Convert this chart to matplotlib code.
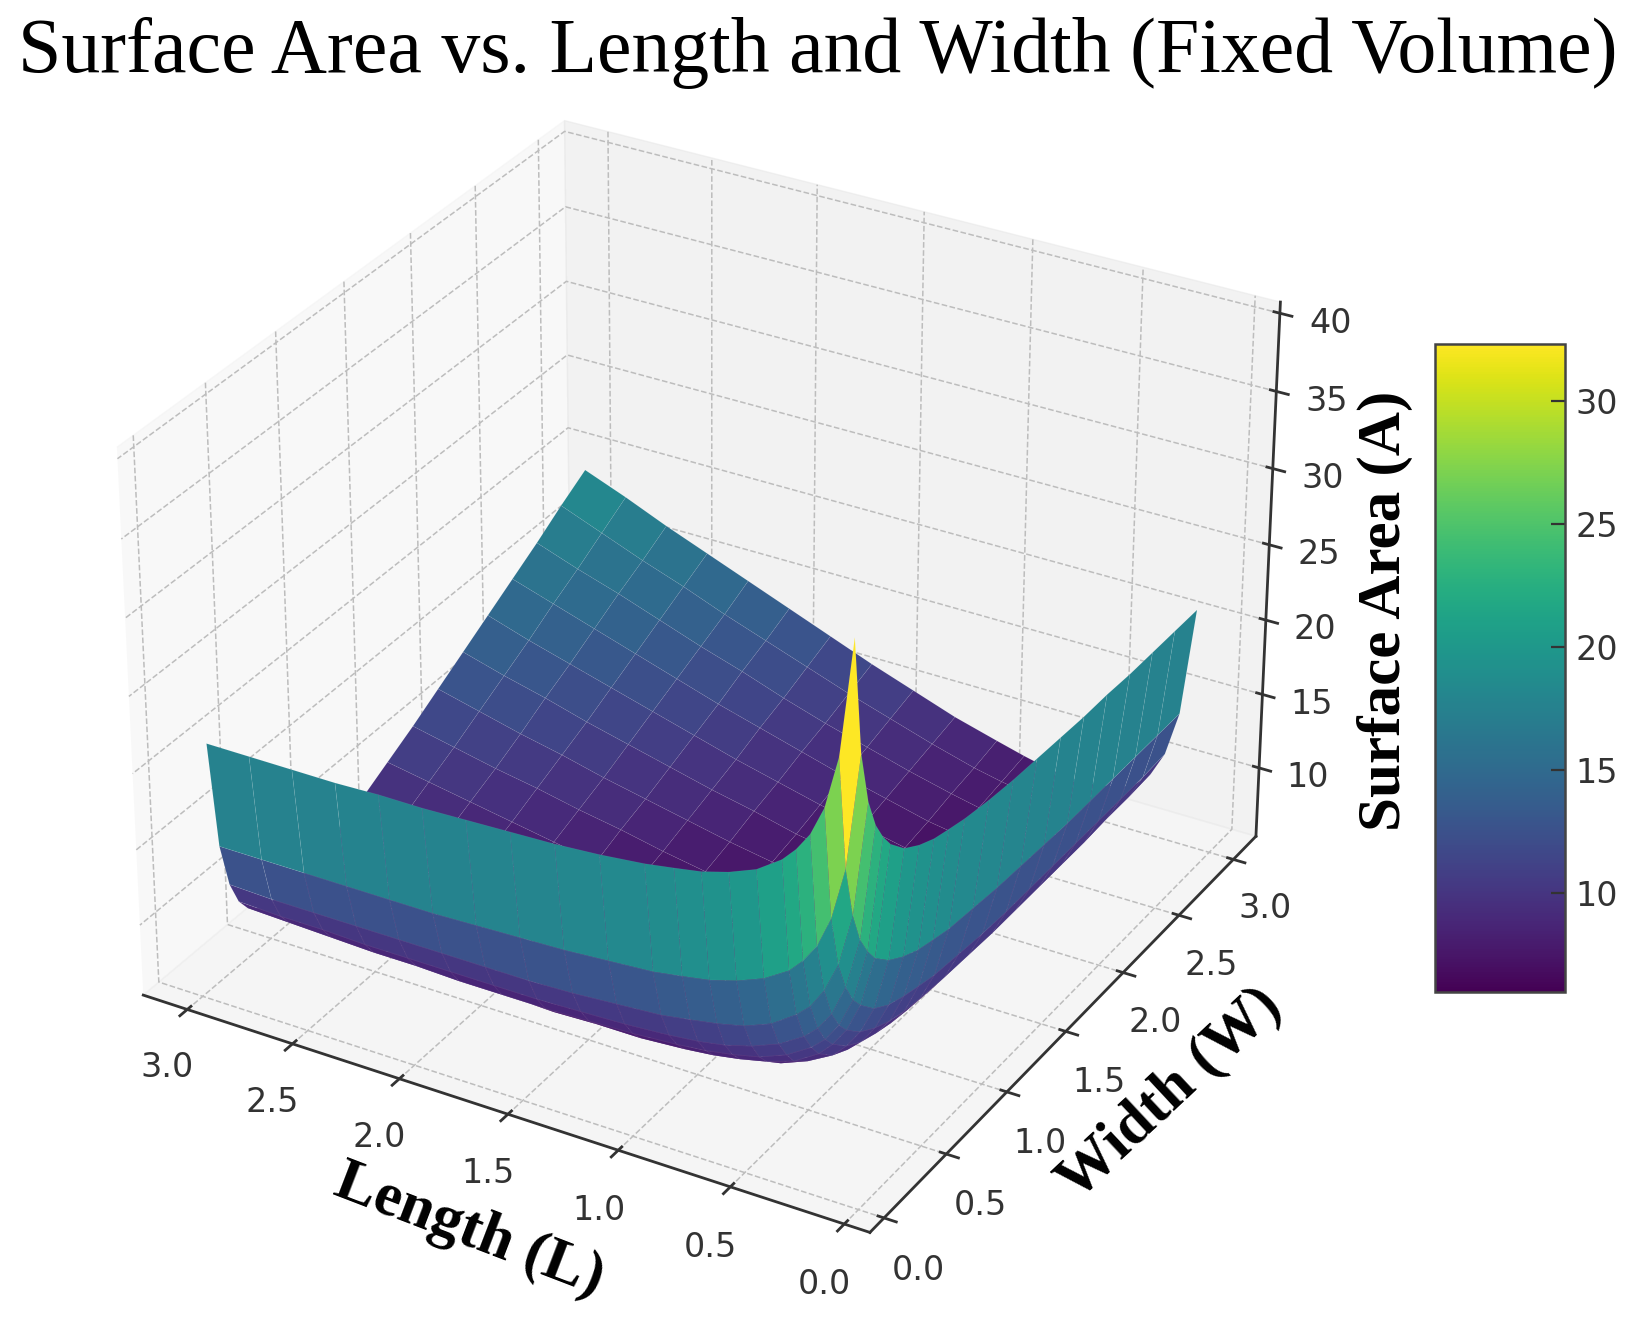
import numpy as np
import matplotlib
matplotlib.use('Agg')
import matplotlib.pyplot as plt

plt.rcParams['grid.linestyle'] = '--'
plt.rcParams['grid.color'] = '#bdbdbd'
plt.rcParams['grid.linewidth'] = 1.1
plt.rcParams['axes.linewidth'] = 2
plt.rcParams['axes.edgecolor'] = '#333333'
plt.rcParams['xtick.major.width'] = 2
plt.rcParams['ytick.major.width'] = 2
plt.rcParams['xtick.color'] = '#333333'
plt.rcParams['ytick.color'] = '#333333'

title = 'Surface Area vs. Length and Width (Fixed Volume)'
serif = ['Liberation Serif', 'DejaVu Serif']
text_grey = '#333333'

# sizes read along the axes
length = [0.10, 0.16, 0.22, 0.28, 0.34, 0.40, 0.51, 0.63, 0.75, 0.87, 1.0,
          1.2, 1.4, 1.6, 1.8, 2.0, 2.2, 2.4, 2.6, 2.8, 3.0]
width = [0.10, 0.16, 0.22, 0.28, 0.34, 0.40, 0.51, 0.63, 0.75, 0.87, 1.0,
         1.2, 1.4, 1.6, 1.8, 2.0, 2.2, 2.4, 2.6, 2.8, 3.0]

# surface height, one row per width
area = [
    [40.0, 32.5, 29.1, 27.2, 26.0, 25.1, 24.0, 23.3, 22.8, 22.5, 22.2, 21.9, 21.7, 21.6, 21.5, 21.4, 21.4, 21.3, 21.3, 21.3, 21.3],
    [32.5, 25.1, 21.7, 19.7, 18.5, 17.6, 16.6, 15.9, 15.4, 15.1, 14.8, 14.6, 14.4, 14.3, 14.2, 14.1, 14.1, 14.1, 14.1, 14.1, 14.1],
    [29.1, 21.7, 18.3, 16.4, 15.1, 14.3, 13.2, 12.5, 12.1, 11.8, 11.5, 11.3, 11.1, 11.0, 11.0, 11.0, 11.0, 11.0, 11.0, 11.0, 11.1],
    [27.2, 19.7, 16.4, 14.4, 13.2, 12.4, 11.4, 10.7, 10.2, 9.9, 9.7, 9.5, 9.4, 9.3, 9.3, 9.3, 9.3, 9.3, 9.4, 9.4, 9.5],
    [26.0, 18.5, 15.1, 13.2, 12.0, 11.2, 10.2, 9.5, 9.1, 8.8, 8.6, 8.4, 8.3, 8.2, 8.2, 8.2, 8.3, 8.3, 8.4, 8.5, 8.6],
    [25.1, 17.6, 14.3, 12.4, 11.2, 10.3, 9.3, 8.7, 8.3, 8.0, 7.8, 7.6, 7.6, 7.5, 7.6, 7.6, 7.7, 7.8, 7.9, 8.0, 8.1],
    [24.0, 16.6, 13.2, 11.4, 10.2, 9.3, 8.4, 7.7, 7.4, 7.1, 6.9, 6.8, 6.8, 6.8, 6.9, 7.0, 7.1, 7.2, 7.3, 7.5, 7.7],
    [23.3, 15.9, 12.5, 10.7, 9.5, 8.7, 7.7, 7.1, 6.8, 6.6, 6.4, 6.4, 6.4, 6.4, 6.6, 6.7, 6.9, 7.0, 7.2, 7.4, 7.6],
    [22.8, 15.4, 12.1, 10.2, 9.1, 8.3, 7.4, 6.8, 6.5, 6.3, 6.2, 6.1, 6.2, 6.3, 6.5, 6.7, 6.9, 7.1, 7.3, 7.6, 7.8],
    [22.5, 15.1, 11.8, 9.9, 8.8, 8.0, 7.1, 6.6, 6.3, 6.1, 6.0, 6.1, 6.2, 6.3, 6.5, 6.8, 7.0, 7.3, 7.6, 7.9, 8.2],
    [22.2, 14.8, 11.5, 9.7, 8.6, 7.8, 6.9, 6.4, 6.2, 6.0, 6.0, 6.1, 6.2, 6.5, 6.7, 7.0, 7.3, 7.6, 8.0, 8.3, 8.7],
    [21.9, 14.6, 11.3, 9.5, 8.4, 7.6, 6.8, 6.4, 6.1, 6.1, 6.1, 6.2, 6.5, 6.8, 7.1, 7.5, 7.9, 8.3, 8.7, 9.1, 9.5],
    [21.7, 14.4, 11.1, 9.4, 8.3, 7.6, 6.8, 6.4, 6.2, 6.2, 6.2, 6.5, 6.8, 7.2, 7.6, 8.0, 8.5, 9.0, 9.5, 10.0, 10.5],
    [21.6, 14.3, 11.0, 9.3, 8.2, 7.5, 6.8, 6.4, 6.3, 6.3, 6.5, 6.8, 7.2, 7.6, 8.1, 8.7, 9.2, 9.8, 10.3, 10.9, 11.5],
    [21.5, 14.2, 11.0, 9.3, 8.2, 7.6, 6.9, 6.6, 6.5, 6.5, 6.7, 7.1, 7.6, 8.1, 8.7, 9.3, 9.9, 10.6, 11.2, 11.9, 12.6],
    [21.4, 14.1, 11.0, 9.3, 8.2, 7.6, 7.0, 6.7, 6.7, 6.8, 7.0, 7.5, 8.0, 8.7, 9.3, 10.0, 10.7, 11.4, 12.2, 12.9, 13.7],
    [21.4, 14.1, 11.0, 9.3, 8.3, 7.7, 7.1, 6.9, 6.9, 7.0, 7.3, 7.9, 8.5, 9.2, 9.9, 10.7, 11.5, 12.3, 13.1, 13.9, 14.8],
    [21.3, 14.1, 11.0, 9.3, 8.3, 7.8, 7.2, 7.0, 7.1, 7.3, 7.6, 8.3, 9.0, 9.8, 10.6, 11.4, 12.3, 13.2, 14.1, 15.0, 15.9],
    [21.3, 14.1, 11.0, 9.4, 8.4, 7.9, 7.3, 7.2, 7.3, 7.6, 8.0, 8.7, 9.5, 10.3, 11.2, 12.2, 13.1, 14.1, 15.1, 16.0, 17.0],
    [21.3, 14.1, 11.0, 9.4, 8.5, 8.0, 7.5, 7.4, 7.6, 7.9, 8.3, 9.1, 10.0, 10.9, 11.9, 12.9, 13.9, 15.0, 16.0, 17.1, 18.2],
    [21.3, 14.1, 11.1, 9.5, 8.6, 8.1, 7.7, 7.6, 7.8, 8.2, 8.7, 9.5, 10.5, 11.5, 12.6, 13.7, 14.8, 15.9, 17.0, 18.2, 19.3],
]

L, W = np.meshgrid(length, width)
A = np.array(area)

fig = plt.figure(figsize=(16.33, 13.2), dpi=100)
ax = fig.add_axes([-0.0145, 0.0045, 0.877, 0.98], projection='3d')

surf = ax.plot_surface(L, W, A, cmap='viridis', rstride=1, cstride=1, vmin=5.97, vmax=32.33,
                       edgecolor=(1, 1, 1, 0.06), linewidth=0.6)
ax.invert_xaxis()

ax.set_xticks([0, 0.5, 1, 1.5, 2, 2.5, 3])
ax.set_yticks([0, 0.5, 1, 1.5, 2, 2.5, 3])
ax.set_zticks([10, 15, 20, 25, 30, 35, 40])
ax.tick_params(labelsize=24, labelcolor=text_grey, pad=14)

# the three axis titles sit off the axis midpoints, so they are placed by hand
label_font = dict(family=serif, fontweight='bold', fontsize=44, ha='center', va='center')
fig.text(0.2875, 0.068, 'Length (L)', rotation=-21, **label_font)
fig.text(0.7165, 0.171, 'Width (W)', rotation=43, **label_font)
fig.text(0.848, 0.5375, 'Surface Area (A)', rotation=90, **label_font)

fig.text(0.501, 0.96, title, family=serif, fontsize=56, ha='center', va='center')

cax = fig.add_axes([0.879, 0.2485, 0.0796, 0.491])
cbar = fig.colorbar(surf, cax=cax)
cbar.set_ticks([10, 15, 20, 25, 30])
cbar.ax.tick_params(labelsize=24, labelcolor=text_grey, color=text_grey, width=1.6, length=10,
                    direction='in', pad=7)
cbar.outline.set_linewidth(1.8)
cbar.outline.set_edgecolor('#444444')

fig.savefig('out.png', dpi=100)
